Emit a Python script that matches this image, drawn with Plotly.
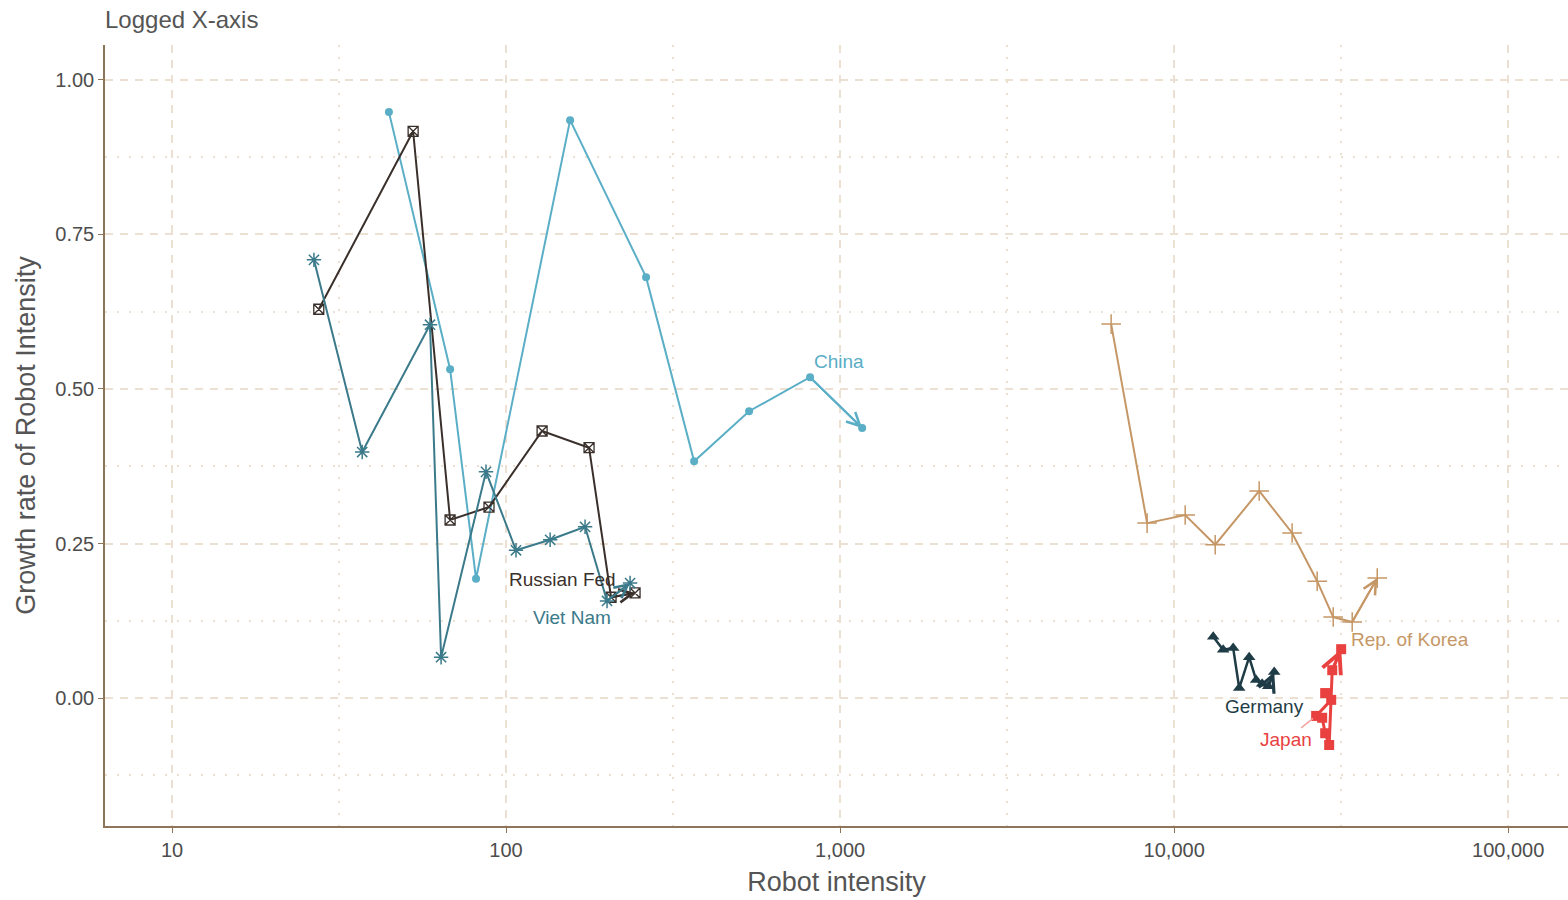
import math
import plotly.graph_objects as go

# ---------------- data ----------------
china_x = [44.6, 68.0, 81.3, 155.5, 262.5, 365.6, 534, 813, 1164]
china_y = [0.948, 0.532, 0.193, 0.935, 0.681, 0.383, 0.464, 0.519, 0.437]

russia_x = [27.5, 52.7, 68.0, 88.9, 128.2, 177.2, 206.2, 243.3]
russia_y = [0.629, 0.917, 0.288, 0.309, 0.432, 0.405, 0.163, 0.170]

viet_x = [26.6, 37.1, 59.2, 63.9, 87.1, 107.1, 135.5, 172.4, 200.6, 235.1]
viet_y = [0.709, 0.398, 0.604, 0.066, 0.366, 0.239, 0.256, 0.277, 0.157, 0.186]

korea_x = [6477, 8299, 10790, 13270, 17970, 22550, 26800, 29930, 34120, 40550]
korea_y = [0.605, 0.283, 0.296, 0.248, 0.335, 0.267, 0.189, 0.131, 0.123, 0.194]

germany_x = [13090, 14020, 15020, 15660, 16770, 17600, 18340, 19120, 19930]
germany_y = [0.099, 0.078, 0.081, 0.016, 0.066, 0.029, 0.023, 0.019, 0.042]

japan_x = [28320, 29520, 26610, 27740, 28320, 29110, 29730, 31620]
japan_y = [0.008, -0.003, -0.029, -0.032, -0.057, -0.076, 0.045, 0.079]

# label positions (x, y)
label_china = (993, 0.544)
label_russia = (147.1, 0.191)
label_viet = (157.6, 0.131)
label_korea = (50890, 0.094)
label_germany = (18600, -0.013)
label_japan = (21930, -0.068)

x_tickvals = [10, 100, 1000, 10000, 100000]
x_ticktext = ["10", "100", "1,000", "10,000", "100,000"]
x_minorvals = [3.1623, 31.623, 316.23, 3162.3, 31623, 316230]
y_tickvals = [0.0, 0.25, 0.5, 0.75, 1.0]
y_ticktext = ["0.00", "0.25", "0.50", "0.75", "1.00"]
y_minorvals = [-0.125, 0.125, 0.375, 0.625, 0.875]

FONT = "Liberation Sans, Arial, sans-serif"
GRID = "#ece0d3"
AXIS = "#8e7458"

series = [
    dict(name="China", x=china_x, y=china_y, color="#5aaec6", symbol="circle",
         size=8, lw=2.0, mlw=0, label=label_china),
    dict(name="Russian Fed", x=russia_x, y=russia_y, color="#3a302b", symbol="square-x-open",
         size=10, lw=2.0, mlw=1.3, label=label_russia),
    dict(name="Viet Nam", x=viet_x, y=viet_y, color="#3b7a8a", symbol="asterisk-open",
         size=12, lw=2.0, mlw=1.5, label=label_viet),
    dict(name="Rep. of Korea", x=korea_x, y=korea_y, color="#c69766", symbol="cross-thin-open",
         size=14, lw=2.0, mlw=1.5, label=label_korea),
    dict(name="Germany", x=germany_x, y=germany_y, color="#1f3c46", symbol="triangle-up",
         size=11, lw=2.5, mlw=0, label=label_germany),
    dict(name="Japan", x=japan_x, y=japan_y, color="#e8413f", symbol="square",
         size=10, lw=3.0, mlw=0, label=label_japan),
]

fig = go.Figure()
annotations = []
for s in series:
    fig.add_trace(go.Scatter(
        x=s["x"], y=s["y"], mode="lines+markers", name=s["name"],
        line=dict(color=s["color"], width=s["lw"]),
        marker=dict(symbol=s["symbol"], size=s["size"], color=s["color"],
                    line=dict(color=s["color"], width=s["mlw"])),
        showlegend=False, hoverinfo="skip",
    ))
    # arrow on last segment
    annotations.append(dict(
        x=math.log10(s["x"][-1]), y=s["y"][-1],
        ax=math.log10(s["x"][-2]), ay=s["y"][-2],
        xref="x", yref="y", axref="x", ayref="y",
        text="", showarrow=True, arrowhead=5, arrowsize=1.3,
        arrowwidth=s["lw"], arrowcolor=s["color"], standoff=0,
    ))
    lx, ly = s["label"]
    if s["name"] == "Japan":
        annotations.append(dict(
            x=math.log10(s["x"][2]), y=s["y"][2], xref="x", yref="y",
            text=s["name"], showarrow=True, arrowhead=0, arrowwidth=1.5,
            arrowcolor="#f4a3a2", ax=-30, ay=24, standoff=4,
            font=dict(family=FONT, size=19, color=s["color"]),
        ))
    else:
        annotations.append(dict(
            x=math.log10(lx), y=ly, xref="x", yref="y", text=s["name"],
            showarrow=False, font=dict(family=FONT, size=19, color=s["color"]),
        ))

fig.update_layout(
    width=1568, height=900,
    margin=dict(l=105, r=0, t=45, b=74),
    paper_bgcolor="white", plot_bgcolor="white",
    font=dict(family=FONT, color="#4d4d4d"),
    title=dict(text="Logged X-axis", x=105 / 1568, xanchor="left", xref="container",
               y=1 - 20 / 900, yanchor="middle", yref="container",
               font=dict(family=FONT, size=24, color="#555555")),
    annotations=annotations,
)

fig.update_xaxes(
    type="log", range=[0.7994, 5.179], automargin=False,
    tickmode="array", tickvals=x_tickvals, ticktext=x_ticktext,
    tickfont=dict(size=20, color="#4d4d4d"),
    showgrid=True, gridcolor=GRID, griddash="8px,7px", gridwidth=1.5,
    minor=dict(tickmode="array", tickvals=x_minorvals, showgrid=True,
               gridcolor=GRID, griddash="2px,10px", gridwidth=2, ticks=""),
    showline=True, linecolor=AXIS, linewidth=1.5,
    ticks="outside", ticklen=5, tickcolor=AXIS, tickwidth=1.2,
    zeroline=False,
    title=dict(text="Robot intensity", font=dict(size=27, color="#555555"), standoff=12),
)
fig.update_yaxes(
    range=[-0.2071, 1.0566], automargin=False,
    tickmode="array", tickvals=y_tickvals, ticktext=y_ticktext,
    tickfont=dict(size=20, color="#4d4d4d"),
    showgrid=True, gridcolor=GRID, griddash="8px,7px", gridwidth=1.5,
    minor=dict(tickmode="array", tickvals=y_minorvals, showgrid=True,
               gridcolor=GRID, griddash="2px,10px", gridwidth=2, ticks=""),
    showline=True, linecolor=AXIS, linewidth=1.5,
    ticks="outside", ticklen=5, tickcolor=AXIS, tickwidth=1.2,
    zeroline=False,
    title=dict(text="Growth rate of Robot Intensity", font=dict(size=27, color="#555555"), standoff=12),
)

fig.write_html("out.html", config={"displayModeBar": False},
               post_script="document.body.style.margin='0';document.body.style.overflow='hidden';")
